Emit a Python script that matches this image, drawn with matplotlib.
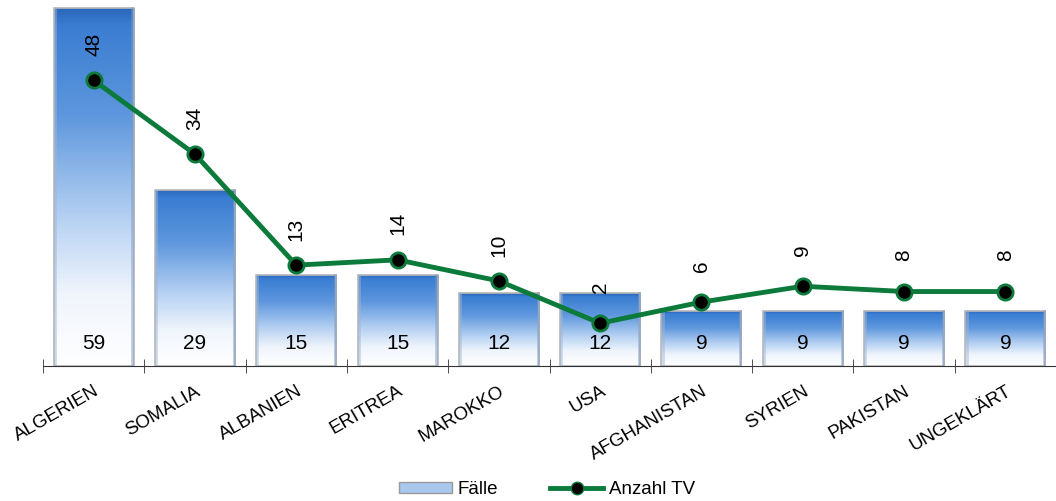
import numpy as np
import matplotlib.pyplot as plt
from matplotlib.colors import LinearSegmentedColormap
from matplotlib.lines import Line2D
from matplotlib.patches import Patch

# ---- data ----
laender = ['ALGERIEN', 'SOMALIA', 'ALBANIEN', 'ERITREA', 'MAROKKO', 'USA',
           'AFGHANISTAN', 'SYRIEN', 'PAKISTAN', 'UNGEKLÄRT']
faelle = [59, 29, 15, 15, 12, 12, 9, 9, 9, 9]
anzahl_tv = [48, 34, 13, 14, 10, 2, 6, 9, 8, 8]

plt.rcParams['font.family'] = ['Liberation Sans', 'DejaVu Sans']

fig = plt.figure(figsize=(10.56, 5.01), dpi=100)
ax = fig.add_axes([43 / 1056, 135 / 501, 1013 / 1056, 366 / 501])
ax2 = ax.twinx()

x = np.arange(len(laender))
ax.set_xlim(-0.5, len(laender) - 0.5)
ax.set_ylim(0, 60.3)
ax2.set_ylim(-6.1, 63.2)

# blue-to-white gradient bars
cmap = LinearSegmentedColormap.from_list(
    'blau', [(0.0, '#2a66b8'), (0.05, '#3a7dd2'), (0.3, '#5e97dd'),
             (0.6, '#b9d3f3'), (0.8, '#f0f5fc'), (1.0, '#ffffff')])
grad = np.linspace(0, 1, 256).reshape(-1, 1)
bars = ax.bar(x, faelle, width=0.79, facecolor='none',
              edgecolor='#b8b8b8', linewidth=1.2, zorder=2)
for b in bars:
    x0, w, h = b.get_x(), b.get_width(), b.get_height()
    im = ax.imshow(grad, cmap=cmap, aspect='auto', origin='upper',
                   extent=[x0, x0 + w, 0, h], zorder=1)
    im.set_clip_path(b)
    # darker side bevels
    ax.plot([x0 + 0.012, x0 + 0.012], [0, h], color='#9fb6d3', lw=2, alpha=0.5, zorder=2)
    ax.plot([x0 + w - 0.012, x0 + w - 0.012], [0, h], color='#7f9cc4', lw=2, alpha=0.5, zorder=2)
    ax.text(b.get_x() + w / 2, 3.7, str(int(h)), ha='center', va='center',
            fontsize=15, zorder=5)

# line on secondary axis
ax2.plot(x, anzahl_tv, color='#0b7a3b', lw=3.5, marker='o', markersize=11,
         markerfacecolor='black', markeredgecolor='#0b7a3b', markeredgewidth=2,
         zorder=4)
for xi, v in zip(x, anzahl_tv):
    ax2.annotate(str(v), (xi, v), xytext=(0, 26), textcoords='offset points',
                 rotation=90, ha='center', va='center', fontsize=15)

# axes styling
for s in ['top', 'left', 'right']:
    ax.spines[s].set_visible(False)
    ax2.spines[s].set_visible(False)
ax2.spines['bottom'].set_visible(False)
ax.spines['bottom'].set_color('#333333')
ax.set_yticks([])
ax2.set_yticks([])
ax.set_xticks(x)
ax.set_xticklabels(laender, rotation=30, ha='right', rotation_mode='anchor',
                   fontsize=13.5)
ax.tick_params(axis='x', length=0, pad=12)
ax.set_xticks(np.arange(-0.5, len(laender), 1), minor=True)
ax.tick_params(axis='x', which='minor', length=10, direction='inout',
               color='#333333')
ax.set_zorder(1)
ax2.set_zorder(2)
ax.patch.set_visible(False)

handles = [Patch(facecolor='#a9c8ee', edgecolor='#9a9a9a', label='Fälle'),
           Line2D([0], [0], color='#0b7a3b', lw=3.5, marker='o', markersize=9,
                  markerfacecolor='black', markeredgecolor='#0b7a3b',
                  label='Anzahl TV')]
fig.legend(handles=handles, loc='center', bbox_to_anchor=(0.518, 0.023), ncol=2,
           frameon=False, fontsize=13.5, handlelength=2.8, handleheight=0.55,
           handletextpad=0.3, columnspacing=2.8)

fig.savefig('out.png', dpi=100)
